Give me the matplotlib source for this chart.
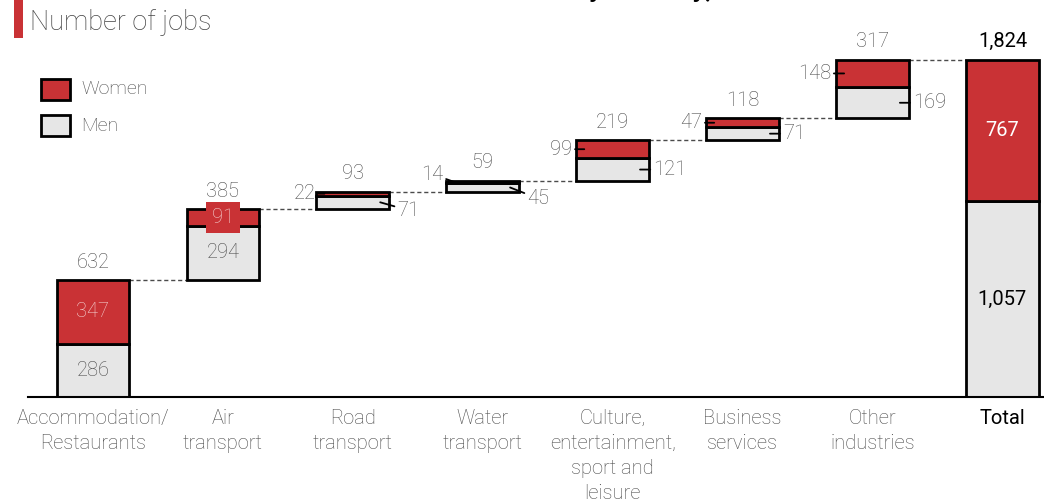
import numpy as np
import matplotlib.pyplot as plt
from matplotlib.patches import Rectangle

# data
categories = ['Accommodation/\nRestaurants', 'Air\ntransport', 'Road\ntransport',
              'Water\ntransport', 'Culture,\nentertainment,\nsport and\nleisure',
              'Business\nservices', 'Other\nindustries', 'Total']
women = [347, 91, 22, 14, 99, 47, 148]
men = [286, 294, 71, 45, 121, 71, 169]
totals = [632, 385, 93, 59, 219, 118, 317]
total_women = 767
total_men = 1057
grand_total = 1824
total_labels = ['632', '385', '93', '59', '219', '118', '317', '1,824']

RED = '#c93235'
GREY = '#e6e6e6'
TXT = '#4a4a4a'
FONT = ['Roboto', 'DejaVu Sans']

plt.rcParams['font.family'] = FONT
plt.rcParams['font.weight'] = 'light'

fig = plt.figure(figsize=(10.44, 4.99), dpi=100)
ax = fig.add_axes([28 / 1044, 102 / 499, 1 - 28 / 1044, 397 / 499])
ax.set_xlim(-0.5, 7.32)
ax.set_ylim(0, 2146)

W = 0.56
px = 1 / 130  # one pixel in x data units
x = np.arange(len(categories))

starts = np.concatenate([[0], np.cumsum(totals)[:-1]])
ends = np.cumsum(totals)

# industry bars
for i in range(len(women)):
    ax.bar(x[i], men[i], W, bottom=starts[i], color=GREY, edgecolor='black', linewidth=2, zorder=3)
    ax.bar(x[i], women[i], W, bottom=starts[i] + men[i], color=RED, edgecolor='black', linewidth=2, zorder=3)

# total bar
ax.bar(x[7], total_men, W, color=GREY, edgecolor='black', linewidth=2, zorder=3)
ax.bar(x[7], total_women, W, bottom=total_men, color=RED, edgecolor='black', linewidth=2, zorder=3)

# dashed connectors
for i in range(len(women)):
    ax.plot([x[i] + W / 2, x[i + 1] - W / 2], [ends[i], ends[i]], color=TXT,
            linestyle=(0, (3, 2)), linewidth=1, zorder=2)

FS = 14.5

# totals on top
for i, lab in enumerate(total_labels):
    top = ends[i] if i < 7 else grand_total
    ax.annotate(lab, (x[i], top), xytext=(0, 6), textcoords='offset points',
                ha='center', va='bottom', fontsize=FS,
                color=TXT if i < 7 else 'black',
                fontweight='light' if i < 7 else 'normal')

# inside labels for the two big bars
ax.text(x[0], starts[0] + men[0] + women[0] / 2, str(women[0]), ha='center', va='center',
        fontsize=FS, color='#f4d0d0', zorder=4)
ax.text(x[0], starts[0] + men[0] / 2, str(men[0]), ha='center', va='center',
        fontsize=FS, color=TXT, zorder=4)
ax.text(x[1], starts[1] + men[1] + women[1] / 2, str(women[1]), ha='center', va='center',
        fontsize=FS, color='#f4d0d0', zorder=4,
        bbox=dict(boxstyle='square,pad=0.3', facecolor=RED, edgecolor='none'))
ax.text(x[1], starts[1] + men[1] / 2, str(men[1]), ha='center', va='center',
        fontsize=FS, color=TXT, zorder=4)
ax.text(x[7], total_men + total_women / 2, f'{total_women:,}', ha='center', va='center',
        fontsize=FS, color='white', fontweight='normal', zorder=4)
ax.text(x[7], total_men / 2, f'{total_men:,}', ha='center', va='center',
        fontsize=FS, color='black', fontweight='normal', zorder=4)

# outside labels with leader lines for small bars: (dx of text, dy of text) in pixels
w_off = {2: (-9, 0), 3: (-11, 8), 4: (-12, 0), 5: (-12, 0), 6: (-13, 0)}
m_off = {2: (17, -8), 3: (17, -11), 4: (13, 0), 5: (13, 0), 6: (13, 0)}
lead = dict(arrowstyle='-', color='black', linewidth=1.3, shrinkA=0, shrinkB=0)
for i in range(2, 7):
    ym = starts[i] + men[i] + women[i] / 2
    dx, dy = w_off[i]
    ax.annotate(str(women[i]), (x[i] - W / 2 + 8 * px, ym), xytext=(dx * 0.72, dy * 0.72),
                textcoords='offset points', ha='right', va='center', fontsize=FS,
                color=TXT, arrowprops=lead, zorder=5)
    ym = starts[i] + men[i] / 2
    dx, dy = m_off[i]
    ax.annotate(str(men[i]), (x[i] + W / 2 - 9 * px, ym), xytext=(dx * 0.72, dy * 0.72),
                textcoords='offset points', ha='left', va='center', fontsize=FS,
                color=TXT, arrowprops=lead, zorder=5)

# axes styling
for s in ['top', 'right', 'left']:
    ax.spines[s].set_visible(False)
ax.spines['bottom'].set_linewidth(1.5)
ax.spines['bottom'].set_zorder(4)
ax.set_yticks([])
ax.set_xticks(x)
ax.set_xticklabels(categories, fontsize=FS, color=TXT, linespacing=1.4)
ax.get_xticklabels()[-1].set_color('black')
ax.get_xticklabels()[-1].set_fontweight('normal')
ax.tick_params(axis='x', length=0, pad=8.5)

# legend
for j, (lab, col) in enumerate([('Women', RED), ('Men', GREY)]):
    yb = 1 - (100 + 36 * j) / 499
    fig.add_artist(Rectangle((41 / 1044, yb), 29 / 1044, 21 / 499, transform=fig.transFigure,
                             facecolor=col, edgecolor='black', linewidth=2))
    fig.text(81 / 1044, yb + 10.5 / 499, lab, fontsize=FS - 0.5, color=TXT, va='center')

# heading
fig.add_artist(Rectangle((14 / 1044, 1 - 38 / 499), 9 / 1044, 38 / 499,
                         transform=fig.transFigure, facecolor=RED, edgecolor='none'))
fig.text(30 / 1044, 1 - 22 / 499, 'Number of jobs', fontsize=19.5, color='#444444', va='center')
fig.text(293 / 1044, 1 + 3 / 499, 'Tourism-related labour by industry, 2019', fontsize=19,
         fontweight='bold', color='black', va='baseline', ha='left')

fig.savefig('out.png', dpi=100)
